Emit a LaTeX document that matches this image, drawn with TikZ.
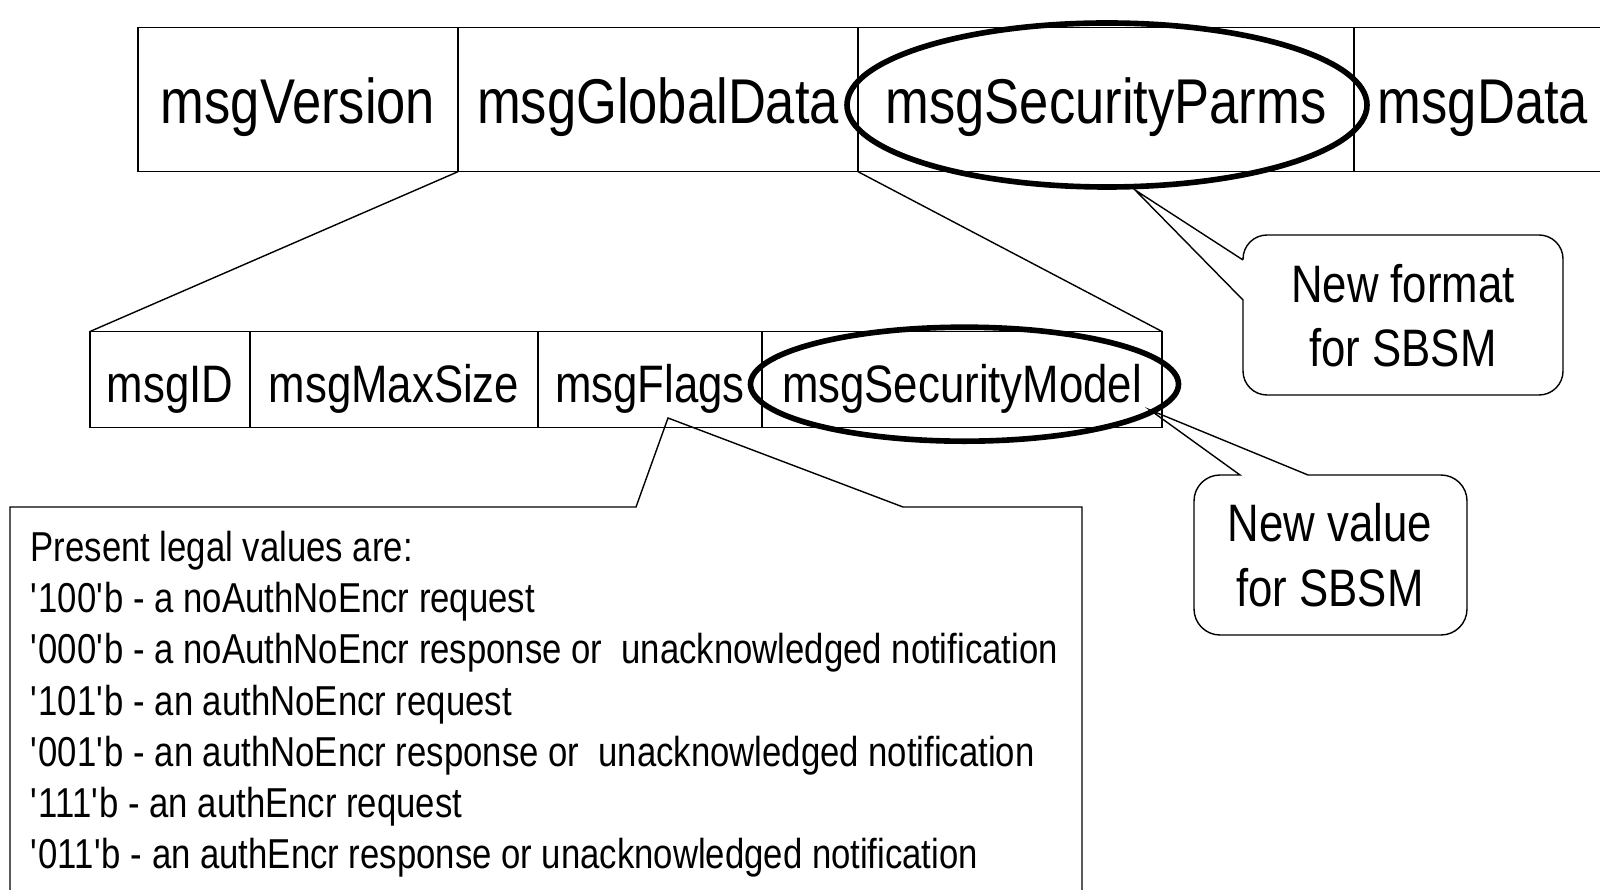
\documentclass[tikz,border=0pt]{standalone}
\usepackage{fontspec}
\setmainfont{Liberation Sans}[FakeStretch=0.83]
\usetikzlibrary{positioning,shapes.geometric}

\newcommand\hdrfont{\fontsize{18}{21.6}\selectfont}
\newcommand\fldfont{\fontsize{15}{18}\selectfont}
\newcommand\notefont{\fontsize{15}{18.3}\selectfont}
\newcommand\valfont{\fontsize{11.9}{14.57}\selectfont}
\newcommand\tq{\textquotesingle}

\tikzset{
  cell/.style={draw, inner sep=0pt, outer sep=0pt, text depth=0pt},
  hdr/.style={cell, minimum height=1.444cm, text height=0.476cm, font=\hdrfont},
  fld/.style={cell, minimum height=0.958cm, text height=0.454cm, font=\fldfont},
  ring/.style={draw, ellipse, line width=1.6pt, inner sep=0pt},
  note/.style={align=center, inner sep=0pt, font=\notefont}
}

\begin{document}
\begin{tikzpicture}
	\useasboundingbox (0,0) rectangle (16,8.89);
	\clip (0,0) rectangle (16,8.89);

	% message header
	\node[hdr, minimum width=3.20cm, anchor=north west] (ver) at (1.38,8.617) {msgVersion};
	\node[hdr, minimum width=4.00cm, right=0pt of ver] (gdata) {msgGlobalData};
	\node[hdr, minimum width=4.96cm, right=0pt of gdata] (parms) {msgSecurityParms};
	\node[hdr, minimum width=2.58cm, right=0pt of parms] (data) {msgData};

	% global data fields
	\node[fld, minimum width=1.60cm, anchor=north west] (id) at (0.90,5.575) {msgID};
	\node[fld, minimum width=2.88cm, right=0pt of id] (maxsize) {msgMaxSize};
	\node[fld, minimum width=2.24cm, right=0pt of maxsize] (flags) {msgFlags};
	\node[fld, minimum width=4.00cm, right=0pt of flags] (smodel) {msgSecurityModel};

	\draw (gdata.south west) -- (id.north west);
	\draw (gdata.south east) -- (smodel.north east);

	\node[ring, minimum width=5.20cm, minimum height=1.64cm] (parmsRing) at (11.07,7.84) {};
	\node[ring, minimum width=4.28cm, minimum height=1.14cm] (modelRing) at (9.645,5.048) {};

	% callouts
	\coordinate (fmtTip) at (11.35,6.99);
	\node[note] (fmt) at (14.03,5.73) {New format\\for SBSM};
	\draw (12.43,6.29) [rounded corners=0.24cm] -- (12.43,6.54) -- (15.63,6.54) -- (15.63,4.94)
		-- (12.43,4.94) [sharp corners] -- (12.43,5.89) -- (fmtTip) -- (12.43,6.29);

	\coordinate (valTip) at (11.50,4.79);
	\node[note] (val) at (13.30,3.34) {New value\\for SBSM};
	\draw (13.08,4.14) [rounded corners=0.26cm] -- (14.67,4.14) -- (14.67,2.54) -- (11.94,2.54)
		-- (11.94,4.14) [sharp corners] -- (12.40,4.14) -- (valTip) -- (13.08,4.14);

	\coordinate (flagTip) at (6.68,4.71);
	\draw (0.10,-0.2) |- (6.36,3.82) -- (flagTip) -- (9.03,3.82) -| (10.82,-0.2);
	\node[anchor=north west, align=left, inner sep=0pt, font=\valfont] (values) at (0.30,3.585) {%
		Present legal values are:\\
		\tq100\tq b - a noAuthNoEncr request\\
		\tq000\tq b - a noAuthNoEncr response or\ \ unacknowledged notification\\
		\tq101\tq b - an authNoEncr request\\
		\tq001\tq b - an authNoEncr response or\ \ unacknowledged notification\\
		\tq111\tq b - an authEncr request\\
		\tq011\tq b - an authEncr response or unacknowledged notification};
\end{tikzpicture}
\end{document}
